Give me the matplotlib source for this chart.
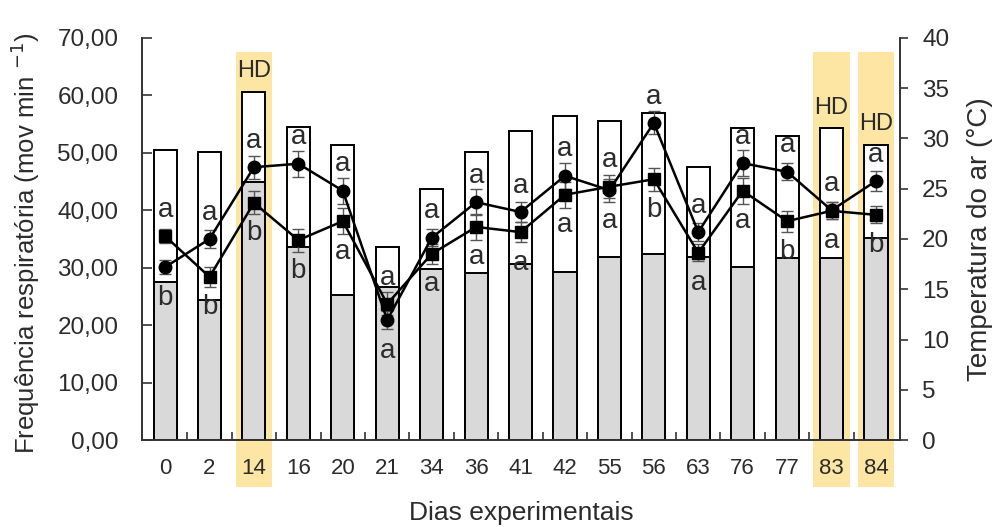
import matplotlib
matplotlib.use('Agg')
import matplotlib.pyplot as plt
import matplotlib.transforms as mtransforms
from matplotlib.patches import Rectangle
from matplotlib import font_manager
import numpy as np

# dias experimentais
dias = ['0', '2', '14', '16', '20', '21', '34', '36', '41', '42', '55', '56', '63', '76', '77', '83', '84']
dias_hd = ['14', '83', '84']

# temperatura do ar (°C): máxima (barra branca) e mínima (barra cinza)
temp_max = [28.9, 28.7, 34.6, 31.1, 29.4, 19.2, 25.0, 28.7, 30.7, 32.2, 31.7, 32.5, 27.2, 31.0, 30.2, 31.0, 29.4]
temp_min = [15.7, 13.9, 25.7, 19.2, 14.4, 15.2, 17.0, 16.6, 17.5, 16.7, 18.2, 18.5, 18.2, 17.2, 18.1, 18.1, 20.1]

# frequência respiratória (mov/min)
freq_circ = [30.1, 35.0, 47.5, 48.1, 43.4, 20.9, 35.2, 41.4, 39.7, 46.0, 43.5, 55.2, 36.2, 48.2, 46.7, 40.0, 45.1]
freq_quad = [35.5, 28.4, 41.3, 34.8, 38.1, 23.7, 32.4, 37.1, 36.2, 42.7, 44.1, 45.4, 32.6, 43.4, 38.1, 39.9, 39.2]
erro_circ = [1.2, 1.5, 2.0, 2.3, 2.3, 1.5, 1.5, 2.3, 1.8, 2.3, 2.0, 2.0, 1.5, 2.3, 1.5, 1.5, 1.8]
erro_quad = [1.2, 1.8, 2.0, 2.0, 2.3, 2.0, 1.8, 2.3, 1.8, 2.3, 2.0, 2.0, 1.5, 2.3, 1.8, 1.5, 1.5]

# letras de significância (acima do maior e abaixo do menor valor)
letras_sup = ['a'] * 17
letras_inf = ['b', 'b', 'b', 'b', 'a', 'a', 'a', 'a', 'a', 'a', 'a', 'b', 'a', 'a', 'b', 'a', 'b']

nomes = {f.name for f in font_manager.fontManager.ttflist}
fonte = 'Liberation Sans' if 'Liberation Sans' in nomes else 'DejaVu Sans'
plt.rcParams['font.family'] = [fonte, 'DejaVu Sans']

cor_texto = '#2b2b2b'
cor_eixo = '#333333'
amarelo = '#fde5a4'

fig = plt.figure(figsize=(9.97, 5.27), dpi=100)
ax = fig.add_axes([0.1424, 0.165, 0.7603, 0.763])
ax2 = ax.twinx()
ax.set_zorder(ax2.get_zorder() + 1)
ax.patch.set_visible(False)

x = np.arange(len(dias))

# faixas amarelas dos dias HD (saem do eixo até o rótulo)
trans = mtransforms.blended_transform_factory(ax2.transData, fig.transFigure)
for d in dias_hd:
    i = dias.index(d)
    ax2.add_patch(Rectangle((i - 0.415, 0.076), 0.83, 0.825, transform=trans,
                            facecolor=amarelo, edgecolor='none', zorder=0, clip_on=False))

# barras de temperatura
ax2.bar(x, temp_max, width=0.52, color='white', edgecolor='black', linewidth=1.4, zorder=2)
ax2.bar(x, temp_min, width=0.52, color='#d9d9d9', edgecolor='black', linewidth=1.4, zorder=3)

for d in dias_hd:
    i = dias.index(d)
    ax2.annotate('HD', (i, temp_max[i]), xytext=(0, 15), textcoords='offset points',
                 ha='center', va='center', fontsize=17, color=cor_texto, zorder=5)

# linhas de frequência respiratória
ax.errorbar(x, freq_circ, yerr=erro_circ, fmt='none', ecolor='#555555', elinewidth=1.0,
            capsize=4, capthick=1.0, zorder=3)
ax.errorbar(x, freq_quad, yerr=erro_quad, fmt='none', ecolor='#555555', elinewidth=1.0,
            capsize=4, capthick=1.0, zorder=3)
ax.plot(x, freq_circ, '-o', color='black', linewidth=1.8, markersize=9, zorder=4)
ax.plot(x, freq_quad, '-s', color='black', linewidth=1.8, markersize=9, zorder=4)

for i in range(len(dias)):
    alto = max(freq_circ[i], freq_quad[i])
    baixo = min(freq_circ[i], freq_quad[i])
    ax.annotate(letras_sup[i], (i, alto), xytext=(0, 19), textcoords='offset points',
                ha='center', va='center', fontsize=20, color=cor_texto, zorder=5)
    ax.annotate(letras_inf[i], (i, baixo), xytext=(0, -22), textcoords='offset points',
                ha='center', va='center', fontsize=20, color=cor_texto, zorder=5)

# eixos
ax.set_xlim(-0.52, 16.54)
ax.set_ylim(0, 70)
ax2.set_ylim(0, 40)
ax.set_yticks(np.arange(0, 71, 10))
ax.set_yticklabels([f'{v:.2f}'.replace('.', ',') for v in np.arange(0, 71, 10)])
ax2.set_yticks(np.arange(0, 41, 5))

ax.set_xticks(x)
ax.set_xticklabels(dias, fontsize=16, color=cor_texto)
ax.set_xticks(x[:-1] + 0.5, minor=True)
ax.tick_params(axis='x', which='major', length=0, pad=13)
ax.tick_params(axis='x', which='minor', direction='in', length=6, width=1.2, color=cor_eixo)
ax.tick_params(axis='y', direction='in', length=7, width=1.2, color=cor_eixo,
               labelsize=17.5, labelcolor=cor_texto, pad=17)
ax2.tick_params(axis='y', direction='out', length=6, width=1.2, color=cor_eixo,
                labelsize=17.5, labelcolor=cor_texto, pad=10)

for a in (ax, ax2):
    a.spines['top'].set_visible(False)
    for s in ('left', 'right', 'bottom'):
        a.spines[s].set_color(cor_eixo)
        a.spines[s].set_linewidth(1.4)
ax.spines['right'].set_visible(False)
ax2.spines['left'].set_visible(False)
ax2.spines['bottom'].set_visible(False)

ax.set_xlabel('Dias experimentais', fontsize=19, color=cor_texto)
ax.xaxis.set_label_coords(0.5, -0.152)
ax.set_ylabel('Frequência respiratória (mov min $^{-1}$)', fontsize=18.5, color=cor_texto)
ax.yaxis.set_label_coords(-0.132, 0.49)
ax2.set_ylabel('Temperatura do ar (°C)', fontsize=20, color=cor_texto)
ax2.yaxis.set_label_coords(1.089, 0.5)

fig.savefig('out.png', dpi=100, facecolor='white')
